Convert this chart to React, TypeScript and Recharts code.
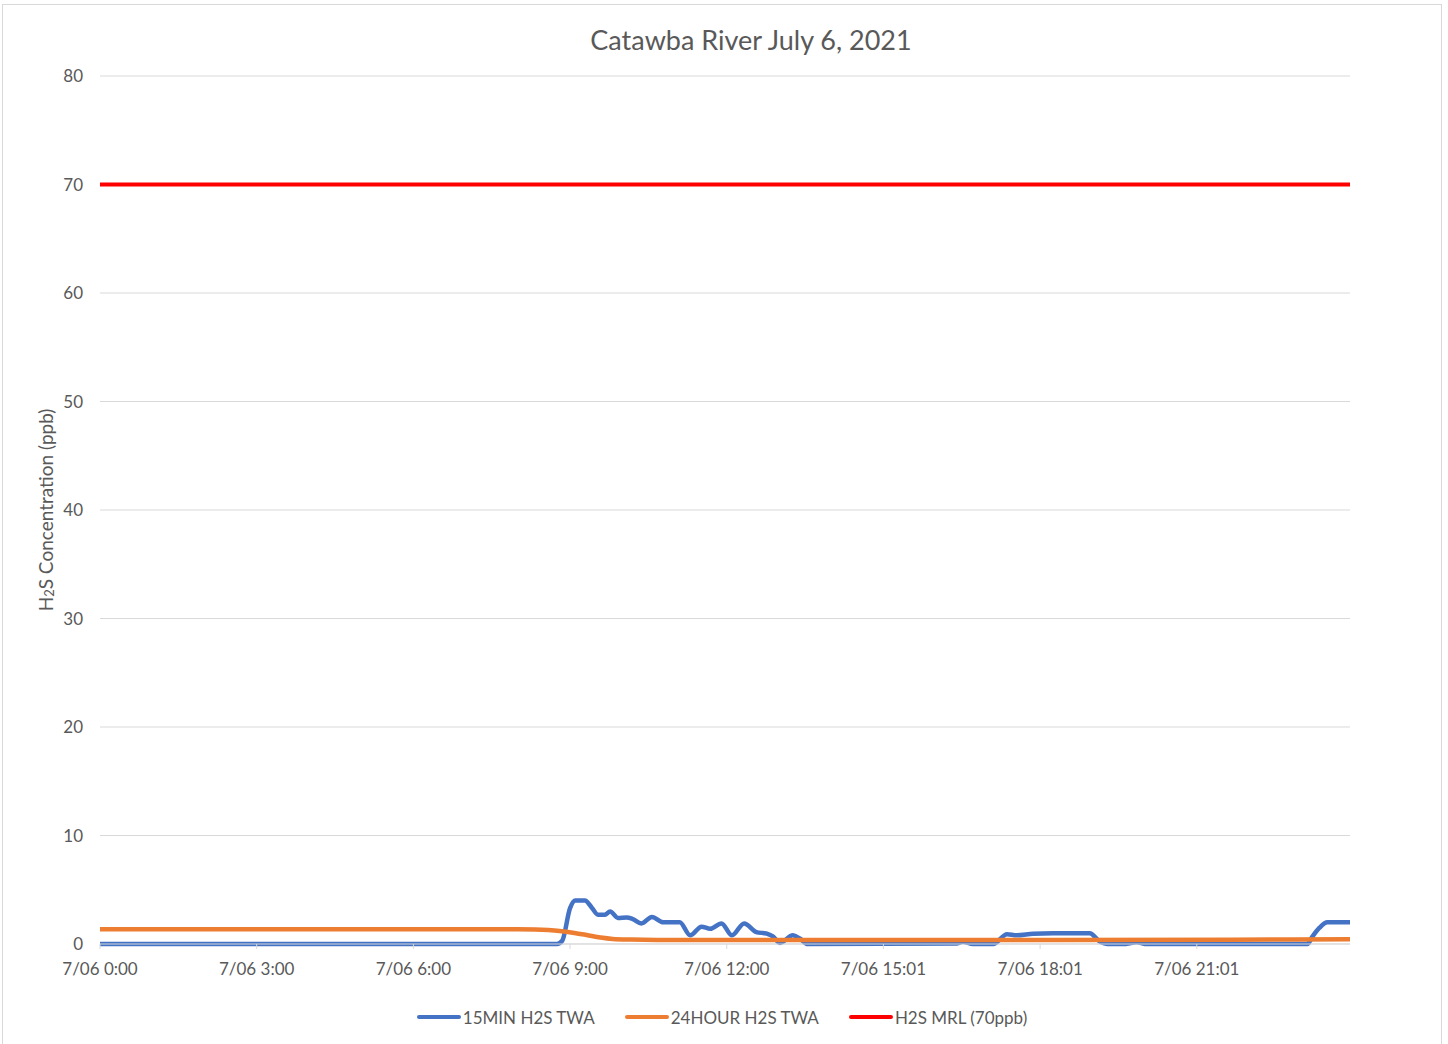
import { CartesianGrid, Legend, Line, LineChart, XAxis, YAxis } from "recharts";

// minutes since 7/06 0:00, ppb
const twa15: [number, number][] = [
    [0, 0], [525, 0], [531, 0.3], [540, 3.3], [546, 4.0], [557, 4.0], [565, 3.35], [572, 2.7],
    [580, 2.7], [586, 3.0], [595, 2.4], [605, 2.45], [612, 2.3], [622, 1.9], [634, 2.5], [647, 2.0],
    [666, 2.0], [678, 0.8], [691, 1.6], [701, 1.4], [714, 1.9], [726, 0.8], [740, 1.9], [754, 1.1],
    [766, 0.95], [773, 0.7], [781, 0.1], [796, 0.8], [804, 0.5], [813, 0], [984, 0.05], [991, 0.2],
    [1003, 0], [1026, 0], [1042, 0.9], [1053, 0.8], [1072, 0.95], [1095, 1.0], [1137, 1.0], [1149, 0.2],
    [1157, 0], [1175, 0], [1191, 0.15], [1203, 0], [1387, 0], [1393, 0.7], [1401, 1.5], [1410, 2.0],
    [1436, 2.0],
];

const twa24: [number, number][] = [
    [0, 1.35], [480, 1.35], [500, 1.33], [515, 1.28], [528, 1.2], [545, 1.02], [559, 0.83], [575, 0.6],
    [589, 0.47], [610, 0.41], [640, 0.38], [900, 0.38], [1100, 0.38], [1300, 0.4], [1436, 0.43],
];

const mrl: [number, number][] = [[0, 70], [1436, 70]];

const xTicks = [0, 180, 360, 540, 720, 900, 1080, 1260];
const xTickLabels = ["7/06 0:00", "7/06 3:00", "7/06 6:00", "7/06 9:00", "7/06 12:00", "7/06 15:01", "7/06 18:01", "7/06 21:01"];
const yTicks = [0, 10, 20, 30, 40, 50, 60, 70, 80];

const seriesNames = ["15MIN H2S TWA", "24HOUR H2S TWA", "H2S MRL (70ppb)"];
const seriesColors = ["#4472C4", "#ED7D31", "#FF0000"];

const toRows = (d: [number, number][]) => d.map(([t, v]) => ({ t, v }));

const font = "Lato, 'Open Sans', sans-serif";
const grey = "#595959";

function LegendContent() {
    return (
        <div style={{ display: "flex", justifyContent: "center", gap: 30, height: 24, alignItems: "center", fontFamily: font, fontSize: 17, color: grey }}>
            {seriesNames.map((n, i) =>
                <div key={n} style={{ display: "flex", alignItems: "center" }}>
                    <span style={{ display: "inline-block", width: 44, height: 4, borderRadius: 2, background: seriesColors[i], marginRight: 2 }} />
                    <span>{n}</span>
                </div>)}
        </div>
    );
}

function YLabel() {
    return (
        <text x={43} y={506} transform="rotate(-90, 43, 506)" textAnchor="middle" dominantBaseline="central"
            fill={grey} fontSize={19} fontFamily={font}>
            H<tspan fontSize={13} dy={4}>2</tspan><tspan dy={-4}>S Concentration (ppb)</tspan>
        </text>
    );
}

export default function App() {
    const series = [twa15, twa24, mrl];
    return (
        <div style={{ position: "absolute", left: 2, top: 4, width: 1438, height: 1045, border: "1px solid #d9d9d9", background: "#fff" }}>
            <div style={{ position: "absolute", left: 0, top: 20, width: 1496, textAlign: "center", fontFamily: font, fontSize: 27, lineHeight: "30px", color: grey }}>
                Catawba River July 6, 2021
            </div>
            <LineChart width={1440} height={1045} margin={{ top: 72, right: 92, left: 0, bottom: 41 }} style={{ position: "absolute", left: -1, top: -1 }}>
                <CartesianGrid vertical={false} stroke="#d9d9d9" strokeWidth={1} />
                <XAxis type="number" dataKey="t" domain={[0, 1436]} ticks={xTicks} allowDataOverflow
                    tickFormatter={(v: number) => xTickLabels[xTicks.indexOf(v)] ?? ""}
                    stroke="#d9d9d9" tickSize={5} tickMargin={14} height={40}
                    tick={{ fill: grey, fontSize: 17, fontFamily: font }} />
                <YAxis type="number" domain={[0, 80]} ticks={yTicks} width={98} axisLine={false} tickLine={false}
                    tickSize={0} tickMargin={17} tick={{ fill: grey, fontSize: 17, fontFamily: font }}
                    label={{ content: () => <YLabel /> }} />
                {series.map((d, i) =>
                    <Line key={seriesNames[i]} data={toRows(d)} dataKey="v" name={seriesNames[i]} type="monotone"
                        stroke={seriesColors[i]} strokeWidth={i === 2 ? 4 : 4.5} dot={false} isAnimationActive={false} />)}
                <Legend verticalAlign="bottom" content={() => <LegendContent />} wrapperStyle={{ bottom: 20, left: 0, width: 1440 }} />
            </LineChart>
        </div>
    );
}
